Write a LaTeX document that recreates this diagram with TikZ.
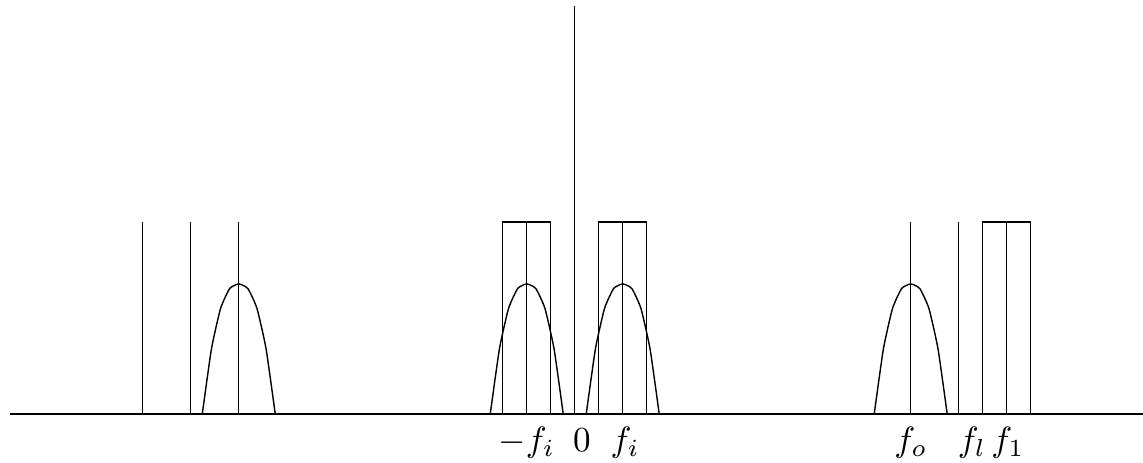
\documentclass[tikz,border=0pt]{standalone}
\begin{document}
\begin{tikzpicture}[x=0.24cm,y=0.24cm,
  bump/.style={line width=0.4pt},
  tick/.style={line width=0.4pt},
  lbl/.style={anchor=base,inner sep=0pt}]
\useasboundingbox (-23.95,-2.04) rectangle (23.68,17.25);
% axes
\coordinate (bl) at (-23.53,0);
\coordinate (br) at (23.68,0);
\coordinate (o) at (0,0);
\coordinate (ot) at (0,17);
\draw[tick] (bl) -- (br);
\draw[tick] (o) -- (ot);
% left group
\foreach \x in {-18,-16,-14} \draw[tick] (\x,0) -- (\x,8);
% center boxes
\draw[tick] (-3,0) -- (-3,8) -- (-1,8) -- (-1,0);
\draw[tick] (-2,0) -- (-2,8);
\draw[tick] (1,0) -- (1,8) -- (3,8) -- (3,0);
\draw[tick] (2,0) -- (2,8);
% right group
\foreach \x in {14,16} \draw[tick] (\x,0) -- (\x,8);
\draw[tick] (17,0) -- (17,8) -- (19,8) -- (19,0);
\draw[tick] (18,0) -- (18,8);
% bumps
\foreach \c in {-14,-2,2,14}
  \draw[bump] plot[smooth,tension=0.3,domain=-1.52:1.52,samples=9] ({\c+\x},{5.42*(1-(abs(\x)/1.52)^2.4)});
% labels
\node[lbl] (lmfi) at (-2,-1.55) {$-f_i$};
\node[lbl] (lzero) at (0.3,-1.55) {$0$};
\node[lbl] (lfi) at (2.1,-1.55) {$f_i$};
\node[lbl] (lfo) at (14,-1.55) {$f_o$};
\node[lbl] (lfl) at (16.55,-1.55) {$f_l$};
\node[lbl] (lf1) at (18.05,-1.55) {$f_1$};
\end{tikzpicture}
\end{document}
